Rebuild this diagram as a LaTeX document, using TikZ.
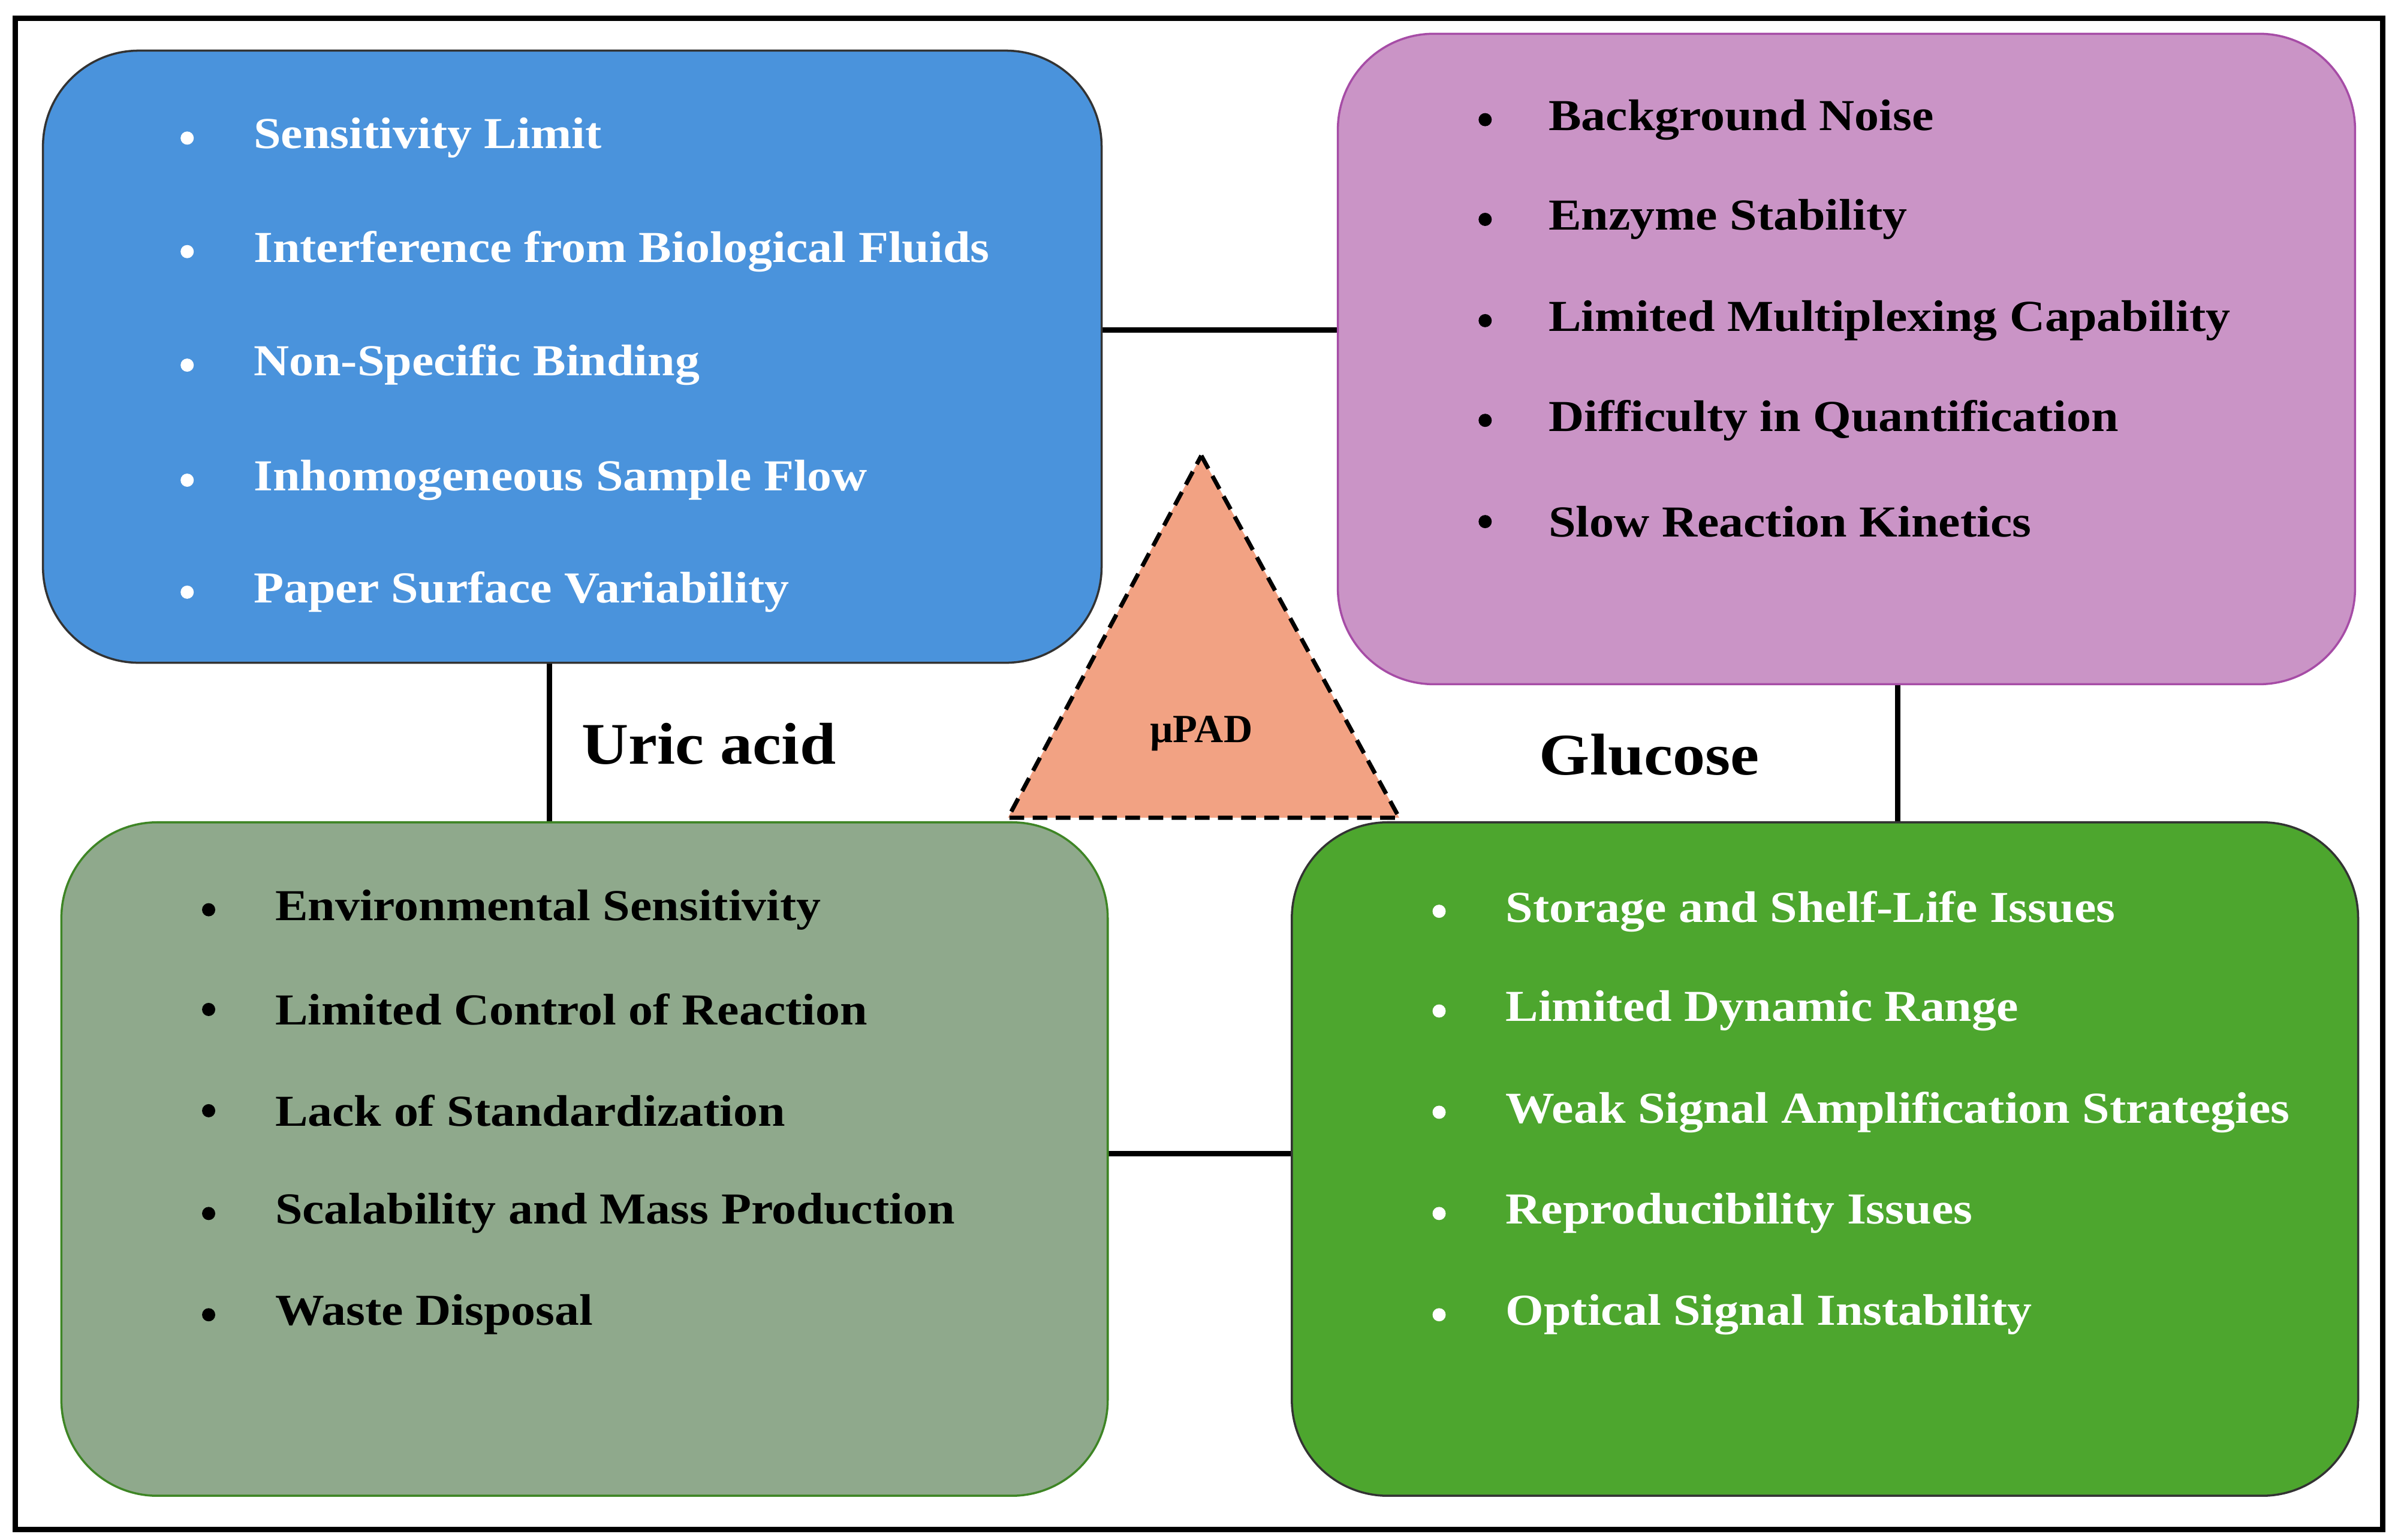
\documentclass[tikz,border=0pt]{standalone}
\usepackage{fontspec}
\setmainfont{Liberation Serif}
\definecolor{bluebox}{HTML}{4A93DC}
\definecolor{pinkbox}{HTML}{CA94C6}
\definecolor{greybox}{HTML}{8FA98C}
\definecolor{greenbox}{HTML}{4DA62E}
\definecolor{tri}{HTML}{F2A283}
\begin{document}
\begin{tikzpicture}[x=0.0256cm,y=-0.0256cm,
  box/.style={rounded corners=1.6cm,line width=1pt},
  item/.style={anchor=west,font=\fontsize{21}{24}\selectfont\bfseries,xscale=1.11},
  bul/.style={circle,inner sep=0pt,minimum size=0.22cm},
  conn/.style={line width=2.5pt},
  lab/.style={font=\fontsize{28}{32}\selectfont\bfseries,xscale=1.1}]
\useasboundingbox (0,0) rectangle (1563,1003.5);
\draw[line width=2.5pt] (10,12) rectangle (1553,997);
% connectors
\coordinate (c1) at (718,215); \coordinate (c2) at (872,215);
\coordinate (c3) at (358,432); \coordinate (c4) at (358,536);
\coordinate (c5) at (1237,446); \coordinate (c6) at (1237,536);
\coordinate (c7) at (722,752); \coordinate (c8) at (842,752);
\draw[conn] (c1)--(c2); \draw[conn] (c3)--(c4); \draw[conn] (c5)--(c6); \draw[conn] (c7)--(c8);
% boxes
\draw[box,fill=bluebox,draw=black!80] (28,33) rectangle (718,432);
\draw[box,fill=pinkbox,draw=violet!70] (872,22) rectangle (1535,446);
\draw[box,fill=greybox,draw=greenbox!80!black] (40,536) rectangle (722,975);
\draw[box,fill=greenbox,draw=black!80] (842,536) rectangle (1537,975);
% triangle
\draw[fill=tri,dash pattern=on 7pt off 4pt,line width=2pt] (783,297) -- (912,533) -- (657,533) -- cycle;
\node[font=\fontsize{19}{22}\selectfont\bfseries] (mu) at (783,478) {µPAD};
\node[lab] (ua) at (462,485) {Uric acid};
\node[lab] (gl) at (1075,492) {Glucose};
% blue
\foreach \t/\y [count=\i] in {Sensitivity Limit/90,Interference from Biological Fluids/164,Non-Specific Binding/238,Inhomogeneous Sample Flow/313,Paper Surface Variability/386}{
  \node[bul,fill=white] (bb\i) at (122,\y) {};
  \node[item,text=white] (bt\i) at (160,\y) {\t};}
\foreach \t/\y [count=\i] in {Background Noise/78,Enzyme Stability/143,Limited Multiplexing Capability/209,Difficulty in Quantification/274,Slow Reaction Kinetics/340}{
  \node[bul,fill=black] (pb\i) at (968,\y) {};
  \node[item] (pt\i) at (1004,\y) {\t};}
\foreach \t/\y [count=\i] in {Environmental Sensitivity/593,Limited Control of Reaction/658,Lack of Standardization/724,Scalability and Mass Production/791,Waste Disposal/857}{
  \node[bul,fill=black] (gb\i) at (136,\y) {};
  \node[item] (gt\i) at (174,\y) {\t};}
\foreach \t/\y [count=\i] in {Storage and Shelf-Life Issues/594,Limited Dynamic Range/659,Weak Signal Amplification Strategies/725,Reproducibility Issues/791,Optical Signal Instability/857}{
  \node[bul,fill=white] (nb\i) at (938,\y) {};
  \node[item,text=white] (nt\i) at (976,\y) {\t};}
\end{tikzpicture}
\end{document}
